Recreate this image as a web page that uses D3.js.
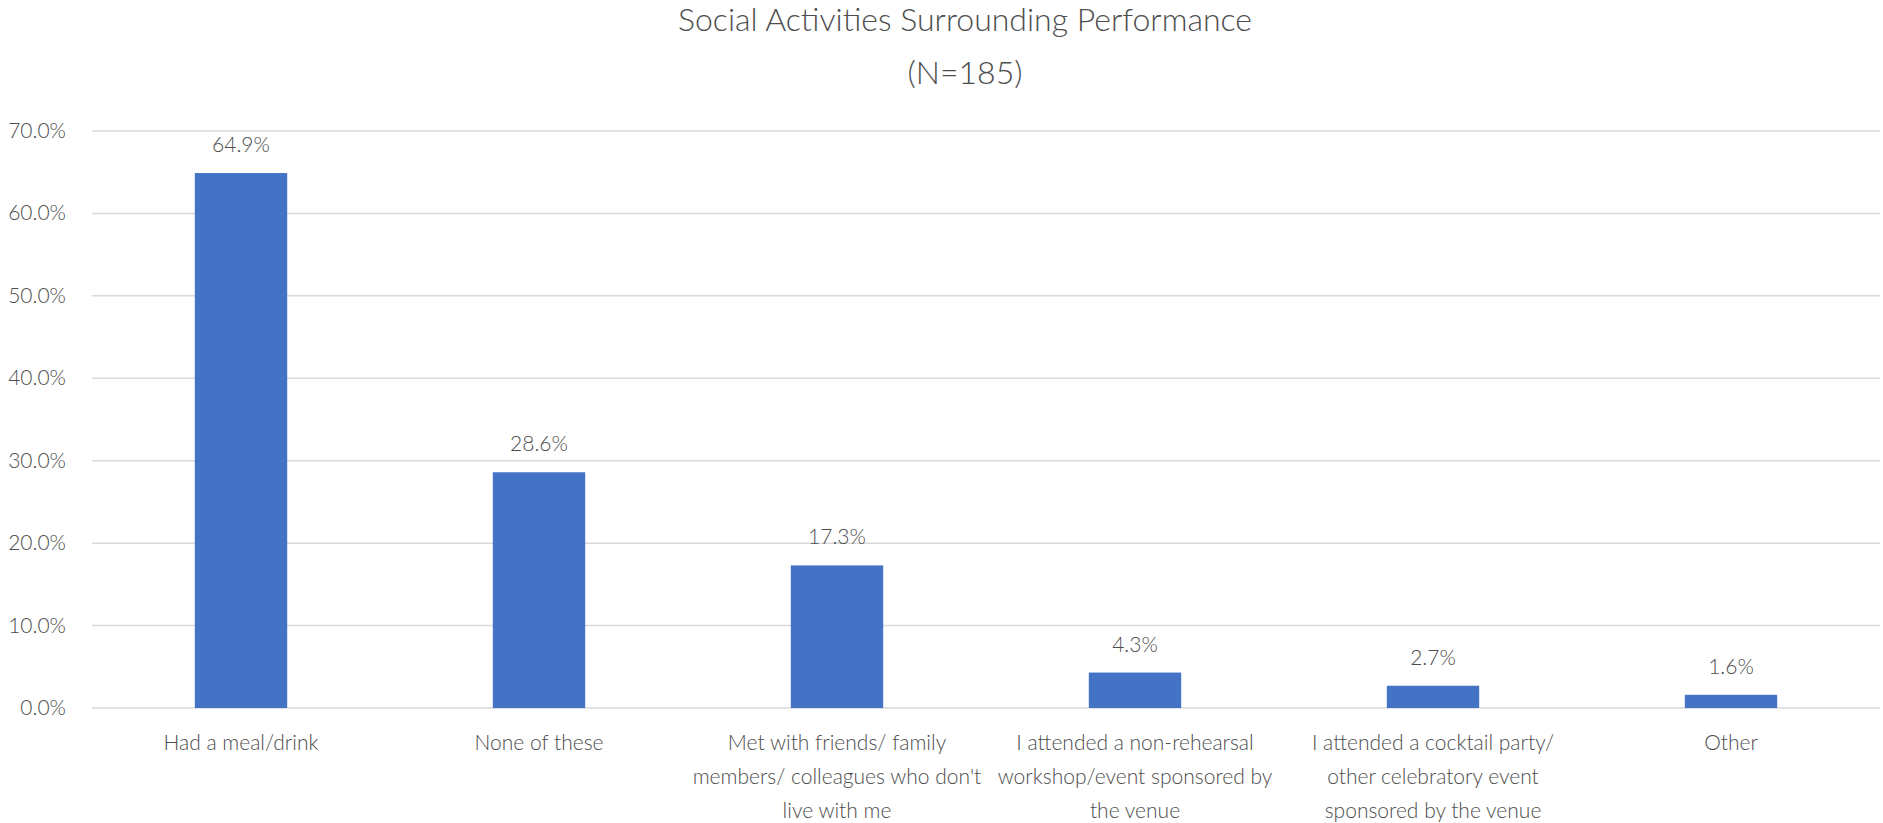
<!DOCTYPE html>
<meta charset="utf-8">
<head>
    <style>
        body {margin: 0; background: #fff;}
        text {font-family: Lato, "Open Sans", sans-serif; font-weight: 300; fill: #4d4d4d;}
        .grid line {stroke: #d9d9d9; stroke-width: 1.5;}
        .bar {fill: #4472C4;}
    </style>
    <script src="https://d3js.org/d3.v7.min.js"></script>
</head>
<body>
<script>

    var categories = [
        ["Had a meal/drink"],
        ["None of these"],
        ["Met with friends/ family", "members/ colleagues who don't", "live with me"],
        ["I attended a non-rehearsal", "workshop/event sponsored by", "the venue"],
        ["I attended a cocktail party/", "other celebratory event", "sponsored by the venue"],
        ["Other"]
    ];
    var values = [64.9, 28.6, 17.3, 4.3, 2.7, 1.6];
    var yTicks = [0, 10, 20, 30, 40, 50, 60, 70];
    var titleLines = ["Social Activities Surrounding Performance", "(N=185)"];

    var width = 1883, height = 823;
    var plot = {left: 92, right: 1880, top: 131, bottom: 708};

    var svg = d3.select("body").append("svg")
        .attr("width", width)
        .attr("height", height);

    var x = d3.scaleBand()
        .domain(d3.range(categories.length))
        .range([plot.left, plot.right])
        .paddingInner(0.69)
        .paddingOuter(0.345);

    var y = d3.scaleLinear()
        .domain([0, 70])
        .range([plot.bottom, plot.top]);

    // gridlines
    svg.append("g").attr("class", "grid")
        .selectAll("line")
        .data(yTicks)
      .enter().append("line")
        .attr("x1", plot.left)
        .attr("x2", plot.right)
        .attr("y1", function(d) {return y(d)})
        .attr("y2", function(d) {return y(d)});

    // y tick labels
    svg.append("g")
        .selectAll("text")
        .data(yTicks)
      .enter().append("text")
        .attr("x", 66)
        .attr("y", function(d) {return y(d) + 7})
        .attr("text-anchor", "end")
        .style("font-size", "21px")
        .text(function(d) {return d.toFixed(1) + "%"});

    // bars
    svg.append("g")
        .selectAll("rect")
        .data(values)
      .enter().append("rect")
        .attr("class", "bar")
        .attr("x", function(d, i) {return x(i)})
        .attr("width", x.bandwidth())
        .attr("y", function(d) {return y(d)})
        .attr("height", function(d) {return y(0) - y(d)});

    // data labels
    svg.append("g")
        .selectAll("text")
        .data(values)
      .enter().append("text")
        .attr("x", function(d, i) {return x(i) + x.bandwidth()/2})
        .attr("y", function(d) {return y(d) - 21})
        .attr("text-anchor", "middle")
        .style("font-size", "21px")
        .text(function(d) {return d.toFixed(1) + "%"});

    // category labels
    var cat = svg.append("g")
        .selectAll("text")
        .data(categories)
      .enter().append("text")
        .attr("text-anchor", "middle")
        .attr("transform", function(d, i) {return "translate(" + (x(i) + x.bandwidth()/2) + ",750)"})
        .style("font-size", "21px");

    cat.selectAll("tspan")
        .data(function(d) {return d})
      .enter().append("tspan")
        .attr("x", 0)
        .attr("y", function(d, i) {return i * 34})
        .text(function(d) {return d});

    // title
    svg.append("g")
        .selectAll("text")
        .data(titleLines)
      .enter().append("text")
        .attr("x", 965)
        .attr("y", function(d, i) {return 31 + i * 53})
        .attr("text-anchor", "middle")
        .style("font-size", "32px")
        .text(function(d) {return d});

</script>
</body>
